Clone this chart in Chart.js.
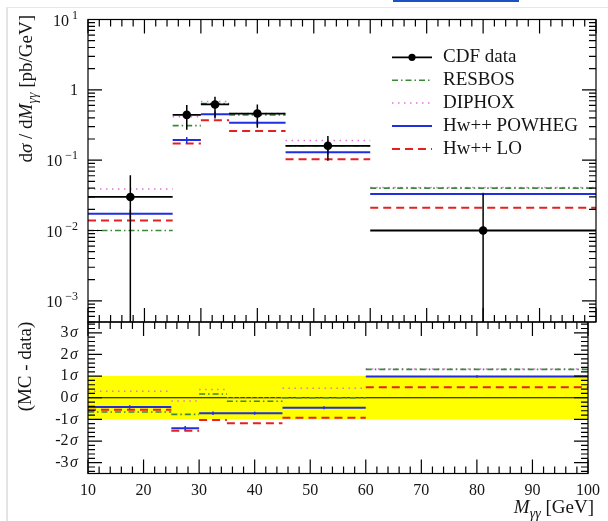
<!DOCTYPE html>
<html lang="en">
<head>
    <meta charset="UTF-8">
    <meta name="viewport" content="width=device-width, initial-scale=1.0">
    <title>Diphoton mass spectrum</title>
    <script src="https://cdn.jsdelivr.net/npm/chart.js"></script>
    <style>
        html, body { margin: 0; padding: 0; background: #fff; }
        #page { position: relative; width: 608px; height: 521px; overflow: hidden; background: #fff; }
        #topBox { position: absolute; left: 0; top: 0; width: 608px; height: 340px; }
        #botBox { position: absolute; left: 0; top: 312px; width: 608px; height: 209px; }
        .edge-left { position: absolute; left: 6px; top: 7px; width: 2px; height: 514px; background: #e4e4e4; }
        .edge-top { position: absolute; left: 6px; top: 7px; width: 602px; height: 1px; background: #e8e8e8; }
        .link-bar { position: absolute; left: 393px; top: 0; width: 126px; height: 2px; background: #1a52c4; }
    </style>
</head>
<body>
<div id="page">
    <div class="edge-left"></div>
    <div class="edge-top"></div>
    <div class="link-bar"></div>
    <div id="topBox"><canvas id="mainChart"></canvas></div>
    <div id="botBox"><canvas id="devChart"></canvas></div>
</div>
<script>
    // bins in M_gg [GeV]
    const binLo  = [10, 25, 30, 35, 45, 60];
    const binHi  = [25, 30, 35, 45, 60, 100];
    const binMid = [17.5, 27.5, 32.5, 40, 52.5, 80];

    // d(sigma)/dM [pb/GeV]
    const cdfData   = [0.030, 0.44, 0.62, 0.46, 0.16, 0.010];
    const cdfErrUp  = [0.031, 0.17, 0.18, 0.16, 0.060, 0.0235];
    const cdfErrDn  = [0.031, 0.17, 0.23, 0.17, 0.062, 0.0235];
    const resbos    = [0.0100, 0.31, 0.64, 0.44, 0.16, 0.040];
    const diphox    = [0.039, 0.415, 0.68, 0.46, 0.19, 0.041];
    const powheg    = [0.0173, 0.193, 0.45, 0.34, 0.13, 0.033];
    const powhegErr = [0.0025, 0.02, 0.04, 0.03, 0.01, 0.0015];
    const hwLO      = [0.0139, 0.173, 0.37, 0.26, 0.103, 0.021];

    // (MC - data) in units of sigma
    const resbosDev    = [-0.66, -0.77, 0.17, -0.16, 0.0, 1.31];
    const diphoxDev    = [0.30, -0.15, 0.38, 0.0, 0.44, 1.33];
    const powhegDev    = [-0.43, -1.41, -0.72, -0.72, -0.46, 0.98];
    const powhegDevErr = [0.08, 0.10, 0.08, 0.07, 0.07, 0.06];
    const hwLODev      = [-0.55, -1.53, -1.03, -1.18, -0.92, 0.49];

    const seriesNames = ['CDF data', 'RESBOS', 'DIPHOX', 'Hw++ POWHEG', 'Hw++ LO'];
    const xTicks   = [10, 20, 30, 40, 50, 60, 70, 80, 90, 100];
    const yDecades = [1e-3, 1e-2, 1e-1, 1, 10];
    const devTicks = [-3, -2, -1, 0, 1, 2, 3];

    const X_MIN = 10, X_MAX = 100;
    const Y_MIN = 5e-4, Y_MAX = 10;
    const D_MIN = -3.5, D_MAX = 3.5;

    const SERIF = "'Liberation Serif', 'DejaVu Serif', serif";
    const INK = '#151515';

    const STYLE = {
        'CDF data':    { color: '#000000', width: 1.8, dash: [] },
        'RESBOS':      { color: '#3a8a3a', width: 1.6, dash: [6, 3, 1.5, 3] },
        'DIPHOX':      { color: '#de74de', width: 1.5, dash: [1.5, 4.5] },
        'Hw++ POWHEG': { color: '#1f2fe0', width: 2, dash: [] },
        'Hw++ LO':     { color: '#e52020', width: 2, dash: [8, 5] }
    };

    Chart.defaults.font.family = SERIF;

    // horizontal segment per bin, broken between bins
    function steps(vals) {
        const pts = [];
        vals.forEach((v, i) => {
            pts.push({ x: binLo[i], y: v }, { x: binHi[i], y: v }, { x: binHi[i], y: null });
        });
        return pts;
    }

    // vertical error bar per bin centre
    function errBars(vals, up, dn, floor) {
        const pts = [];
        vals.forEach((v, i) => {
            let lo = v - dn[i];
            if (floor !== undefined) lo = Math.max(lo, floor);
            pts.push({ x: binMid[i], y: lo }, { x: binMid[i], y: v + up[i] }, { x: binMid[i], y: null });
        });
        return pts;
    }

    function lineSet(name, pts, extra) {
        const s = STYLE[name];
        return Object.assign({
            type: 'line', label: name, data: pts,
            borderColor: s.color, borderWidth: s.width, borderDash: s.dash,
            pointRadius: 0, fill: false, tension: 0, spanGaps: false
        }, extra || {});
    }

    function fontOf(p) {
        return (p.italic ? 'italic ' : '') + (p.size || 19) + 'px ' + SERIF;
    }

    // draws text made of several font pieces (for sub/superscripts)
    function richText(ctx, parts, x, y, align, rotate) {
        ctx.save();
        ctx.translate(x, y);
        if (rotate) ctx.rotate(-Math.PI / 2);
        ctx.fillStyle = INK;
        ctx.textAlign = 'left';
        ctx.textBaseline = 'alphabetic';
        let total = 0;
        parts.forEach(p => { ctx.font = fontOf(p); p.w = ctx.measureText(p.t).width; total += p.w; });
        let cx = align === 'right' ? -total : (align === 'center' ? -total / 2 : 0);
        parts.forEach(p => { ctx.font = fontOf(p); ctx.fillText(p.t, cx, p.dy || 0); cx += p.w; });
        ctx.restore();
    }

    // frame with inward ticks on all four sides
    function frameTicksPlugin(yTickList) {
        return {
            id: 'frameTicks',
            afterDatasetsDraw(chart) {
                const { ctx, chartArea: a, scales: { x, y } } = chart;
                ctx.save();
                ctx.strokeStyle = '#000';
                ctx.lineWidth = 1.2;
                ctx.setLineDash([]);
                ctx.strokeRect(a.left, a.top, a.right - a.left, a.bottom - a.top);
                ctx.beginPath();
                for (let v = X_MIN; v <= X_MAX; v += 2) {
                    const px = x.getPixelForValue(v);
                    const len = v % 10 === 0 ? 14 : 7;
                    ctx.moveTo(px, a.top); ctx.lineTo(px, a.top + len);
                    ctx.moveTo(px, a.bottom); ctx.lineTo(px, a.bottom - len);
                }
                yTickList.forEach(t => {
                    const py = y.getPixelForValue(t.v);
                    if (py < a.top - 0.5 || py > a.bottom + 0.5) return;
                    const len = t.major ? 14 : 7;
                    ctx.moveTo(a.left, py); ctx.lineTo(a.left + len, py);
                    ctx.moveTo(a.right, py); ctx.lineTo(a.right - len, py);
                });
                ctx.stroke();
                ctx.restore();
            }
        };
    }

    // tick positions for the log axis: 1..9 x 10^k
    const logTickList = [];
    for (let k = -4; k <= 1; k++) {
        for (let m = 1; m <= 9; m++) {
            const v = m * Math.pow(10, k);
            if (v >= Y_MIN && v <= Y_MAX) logTickList.push({ v: v, major: m === 1 });
        }
    }
    const devTickList = [];
    for (let i = -17; i <= 17; i++) {
        devTickList.push({ v: i / 5, major: i % 5 === 0 });
    }

    const mainLabels = {
        id: 'mainLabels',
        afterDraw(chart) {
            const { ctx, scales: { y } } = chart;
            ctx.save();
            ctx.fillStyle = INK;
            ctx.textBaseline = 'middle';
            yDecades.forEach(v => {
                const py = y.getPixelForValue(v);
                const exp = Math.round(Math.log10(v));
                if (exp === 0) {
                    ctx.font = '16px ' + SERIF;
                    ctx.textAlign = 'right';
                    ctx.fillText('1', 78, py + 1);
                    return;
                }
                const sup = exp < 0 ? '\u2212' + (-exp) : String(exp);
                ctx.font = '12px ' + SERIF;
                const wSup = ctx.measureText(sup).width;
                ctx.textAlign = 'left';
                ctx.fillText(sup, 78 - wSup, py - 4);
                ctx.font = '16px ' + SERIF;
                ctx.textAlign = 'right';
                ctx.fillText('10', 78 - wSup - 3, py + 2);
            });
            ctx.restore();

            richText(ctx, [
                { t: 'd' }, { t: '\u03c3', italic: true }, { t: ' / d' },
                { t: 'M', italic: true }, { t: '\u03b3\u03b3', italic: true, size: 14, dy: 5 },
                { t: ' [pb/GeV]' }
            ], 32, 15, 'right', true);

            // legend
            ctx.save();
            const x0 = 392, x1 = 432, yRow0 = 57.3, dy = 22.9;
            seriesNames.forEach((name, i) => {
                const s = STYLE[name];
                const yy = yRow0 + i * dy;
                ctx.strokeStyle = s.color;
                ctx.lineWidth = s.width;
                ctx.setLineDash(s.dash);
                ctx.beginPath();
                ctx.moveTo(x0, yy); ctx.lineTo(x1, yy);
                ctx.stroke();
                if (name === 'CDF data') {
                    ctx.fillStyle = s.color;
                    ctx.beginPath();
                    ctx.arc((x0 + x1) / 2, yy, 3.6, 0, Math.PI * 2);
                    ctx.fill();
                }
                ctx.setLineDash([]);
                ctx.fillStyle = INK;
                ctx.font = '19px ' + SERIF;
                ctx.textAlign = 'left';
                ctx.textBaseline = 'middle';
                ctx.fillText(name, 443, yy);
            });
            ctx.restore();
        }
    };

    const devLabels = {
        id: 'devLabels',
        afterDraw(chart) {
            const { ctx, scales: { y } } = chart;
            ctx.save();
            ctx.fillStyle = INK;
            ctx.textBaseline = 'middle';
            devTicks.forEach(v => {
                const py = y.getPixelForValue(v);
                ctx.font = 'italic 16px ' + SERIF;
                const wS = ctx.measureText('\u03c3').width;
                ctx.textAlign = 'left';
                ctx.fillText('\u03c3', 78 - wS, py);
                ctx.font = '16px ' + SERIF;
                ctx.textAlign = 'right';
                ctx.fillText(String(v), 78 - wS - 1.5, py);
            });
            ctx.restore();

            richText(ctx, [{ t: '(MC - data)' }], 31, 54.5, 'center', true);
            richText(ctx, [
                { t: 'M', italic: true }, { t: '\u03b3\u03b3', italic: true, size: 14, dy: 5 },
                { t: ' [GeV]' }
            ], 594, 201, 'right', false);
        }
    };

    const baseOptions = {
        responsive: true,
        maintainAspectRatio: false,
        animation: false,
        events: [],
        plugins: {
            legend: { display: false },
            tooltip: { enabled: false },
            filler: { drawTime: 'beforeDatasetsDraw' }
        }
    };

    // upper panel
    new Chart(document.getElementById('mainChart'), {
        type: 'line',
        data: {
            datasets: [
                lineSet('CDF data', binMid.map((x, i) => ({ x: x, y: cdfData[i] })), {
                    showLine: false, pointRadius: 4.3, pointBackgroundColor: '#000', pointBorderWidth: 0
                }),
                lineSet('CDF data', errBars(cdfData, cdfErrUp, cdfErrDn, Y_MIN / 10), { borderWidth: 1.5 }),
                lineSet('CDF data', steps(cdfData)),
                lineSet('Hw++ POWHEG', errBars(powheg, powhegErr, powhegErr), { borderWidth: 1.5 }),
                lineSet('Hw++ POWHEG', steps(powheg)),
                lineSet('Hw++ LO', steps(hwLO)),
                lineSet('RESBOS', steps(resbos)),
                lineSet('DIPHOX', steps(diphox))
            ]
        },
        options: Object.assign({}, baseOptions, {
            layout: { padding: { left: 88, right: 12, top: 19.5, bottom: 18 } },
            scales: {
                x: { type: 'linear', min: X_MIN, max: X_MAX, display: false },
                y: { type: 'logarithmic', min: Y_MIN, max: Y_MAX, display: false }
            }
        }),
        plugins: [frameTicksPlugin(logTickList), mainLabels]
    });

    // lower panel
    new Chart(document.getElementById('devChart'), {
        type: 'line',
        data: {
            datasets: [
                lineSet('Hw++ POWHEG', errBars(powhegDev, powhegDevErr, powhegDevErr), { borderWidth: 1.5 }),
                lineSet('Hw++ POWHEG', steps(powhegDev)),
                lineSet('Hw++ LO', steps(hwLODev)),
                lineSet('RESBOS', steps(resbosDev)),
                lineSet('DIPHOX', steps(diphoxDev)),
                {
                    type: 'line', data: [{ x: X_MIN, y: 0 }, { x: X_MAX, y: 0 }],
                    borderColor: '#000', borderWidth: 1.2, pointRadius: 0, fill: false
                },
                {
                    type: 'line', data: [{ x: X_MIN, y: 1 }, { x: X_MAX, y: 1 }],
                    borderWidth: 0, pointRadius: 0, fill: '+1', backgroundColor: '#ffff00'
                },
                {
                    type: 'line', data: [{ x: X_MIN, y: -1 }, { x: X_MAX, y: -1 }],
                    borderWidth: 0, pointRadius: 0, fill: false
                }
            ]
        },
        options: Object.assign({}, baseOptions, {
            layout: { padding: { left: 88, right: 12, top: 10, bottom: 0 } },
            scales: {
                x: {
                    type: 'linear', min: X_MIN, max: X_MAX,
                    afterBuildTicks: s => { s.ticks = xTicks.map(v => ({ value: v })); },
                    afterFit: s => { s.height = 47.5; },
                    grid: { display: false, drawTicks: false },
                    border: { display: false },
                    ticks: {
                        padding: 8, color: INK, autoSkip: false, maxRotation: 0,
                        font: { size: 16, family: SERIF },
                        callback: v => String(v)
                    }
                },
                y: { type: 'linear', min: D_MIN, max: D_MAX, display: false }
            }
        }),
        plugins: [frameTicksPlugin(devTickList), devLabels]
    });
</script>
</body>
</html>
